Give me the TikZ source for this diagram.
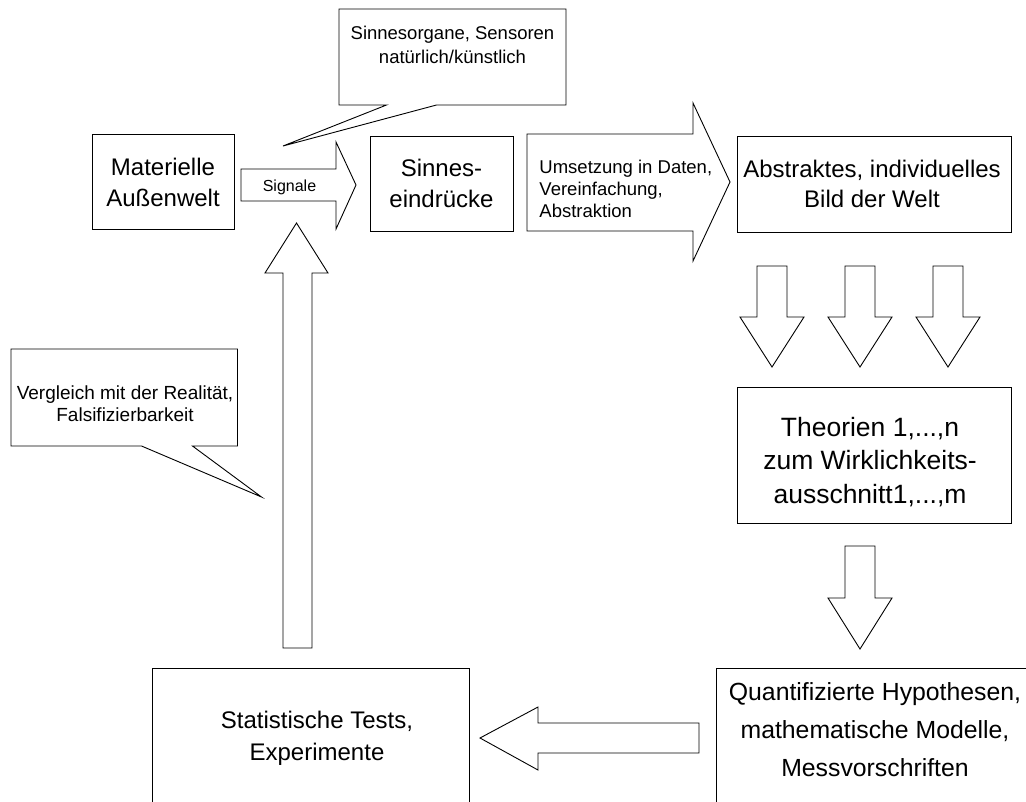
\documentclass[tikz,border=0pt]{standalone}
\usepackage{fontspec}
\setmainfont{Liberation Sans}

\begin{document}
\begin{tikzpicture}[x=1pt,y=-1pt,line width=.9pt,
  box/.style={draw,inner sep=0pt},
  txt/.style={inner sep=0pt,align=center},
  blockarrow/.style={draw,fill=white,line join=miter}]
\path[use as bounding box] (0,0) rectangle (1026,801);
\clip (0,0) rectangle (1026,801);
% boxes
\node[box,minimum width=142,minimum height=95] (aussenwelt) at (163,181.5) {};
\node[txt,font=\fontsize{24}{31}\selectfont] (aussenwelttxt) at (163,182) {Materielle\\Außenwelt};
\node[box,minimum width=143,minimum height=95] (eindruecke) at (441.5,183.5) {};
\node[txt,font=\fontsize{24}{31}\selectfont] (eindrueckeTxt) at (441.5,183) {Sinnes-\\eindrücke};
\node[box,minimum width=274,minimum height=96] (bild) at (874,184.5) {};
\node[txt,font=\fontsize{24}{30}\selectfont] (bildtxt) at (872,184) {Abstraktes, individuelles\\Bild der Welt};
\node[box,minimum width=274,minimum height=136] (theorien) at (874,455) {};
\node[txt,font=\fontsize{26.5}{33.5}\selectfont] (theorientxt) at (870,462) {Theorien 1,...,n\\zum Wirklichkeits-\\ausschnitt1,...,m};
\node[box,minimum width=316.5,minimum height=144] (tests) at (310.75,740) {};
\node[txt,font=\fontsize{24}{32}\selectfont] (teststxt) at (317,738.5) {Statistische Tests,\\Experimente};
\node[box,minimum width=318,minimum height=144] (hypothesen) at (875,740) {};
\node[txt,font=\fontsize{24.8}{38}\selectfont] (hypothesentxt) at (875,729.5) {Quantifizierte Hypothesen,\\mathematische Modelle,\\Messvorschriften};
% callouts
\draw (339,9) -- (566,9) -- (566,105) -- (436.5,105) -- (283,146) -- (386.5,105) -- (339,105) -- cycle;
\node[txt,font=\fontsize{18.5}{24}\selectfont] (sensorentxt) at (452.5,44.5) {Sinnesorgane, Sensoren\\natürlich/künstlich};
\draw (11,349) -- (237.5,349) -- (237.5,446) -- (192.5,446) -- (261.5,497) -- (141.5,446) -- (11,446) -- cycle;
\node[txt,font=\fontsize{19}{22.5}\selectfont] (realitaettxt) at (125,403.5) {Vergleich mit der Realität,\\Falsifizierbarkeit};
% block arrows
\draw[blockarrow] (241,169) -- (336,169) -- (336,142) -- (356,185) -- (336,229) -- (336,201) -- (241,201) -- cycle;
\node[txt,font=\fontsize{16}{19}\selectfont] (signaletxt) at (289.5,187) {Signale};
\draw[blockarrow] (527,134) -- (693,134) -- (693,103) -- (730,182) -- (693,261) -- (693,231) -- (527,231) -- cycle;
\node[txt,align=left,anchor=west,font=\fontsize{18.5}{22}\selectfont] (umsetzungtxt) at (539,188.5) {Umsetzung in Daten,\\Vereinfachung,\\Abstraktion};
\draw[blockarrow] (757,266) -- (787,266) -- (787,317) -- (804,317) -- (772,367) -- (740,317) -- (757,317) -- cycle;
\draw[blockarrow] (845,266) -- (875,266) -- (875,317) -- (892,317) -- (860,367) -- (828,317) -- (845,317) -- cycle;
\draw[blockarrow] (933,266) -- (963,266) -- (963,317) -- (980,317) -- (948,367) -- (916,317) -- (933,317) -- cycle;
\draw[blockarrow] (845,546) -- (875,546) -- (875,598) -- (892,598) -- (860,649) -- (828,598) -- (845,598) -- cycle;
\draw[blockarrow] (699,723) -- (538,723) -- (538,707) -- (480,738) -- (538,770) -- (538,753) -- (699,753) -- cycle;
\draw[blockarrow] (283,648) -- (283,273) -- (265,273) -- (296.5,223) -- (328,273) -- (312,273) -- (312,648) -- cycle;
\end{tikzpicture}
\end{document}
